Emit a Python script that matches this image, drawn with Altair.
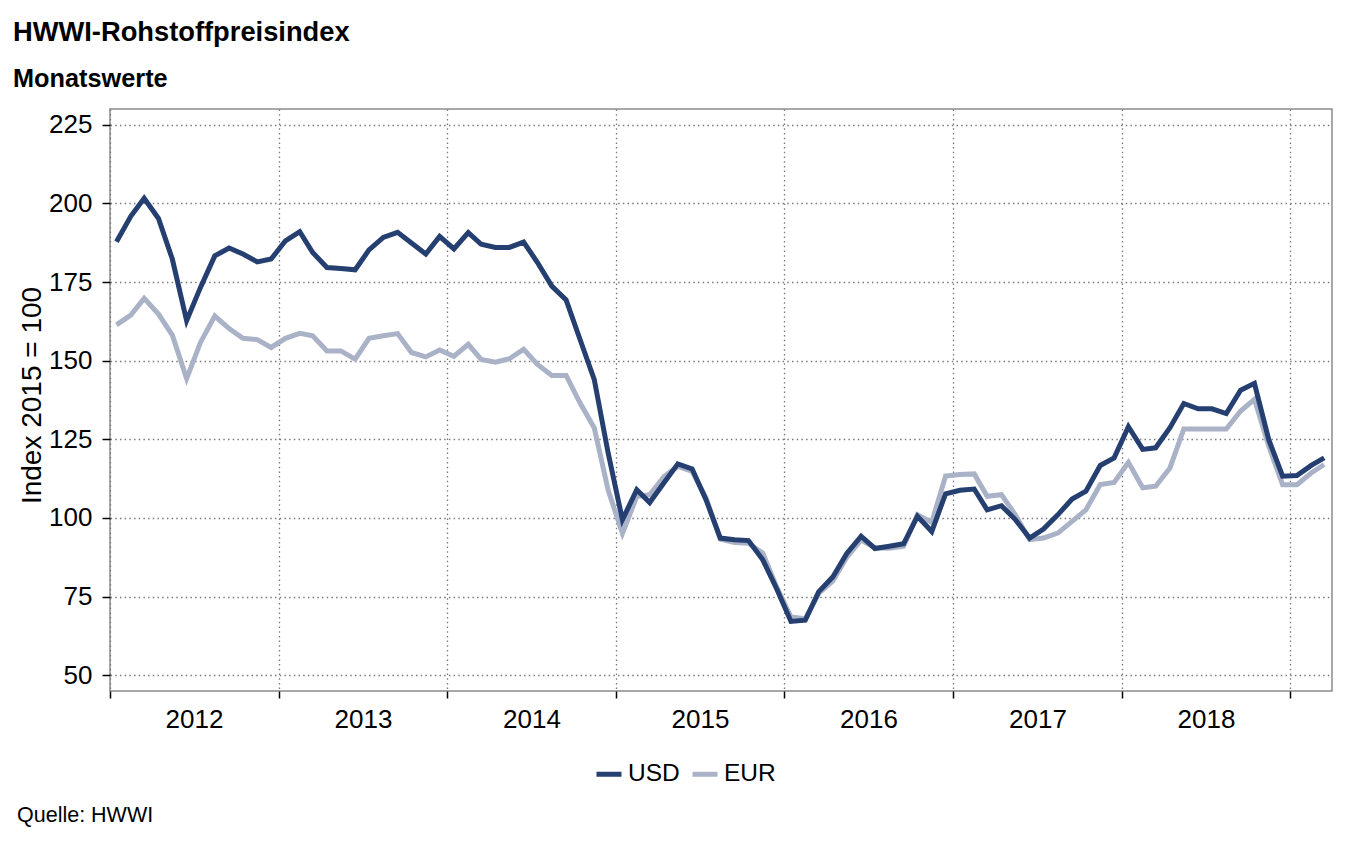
import altair as alt
import pandas as pd

F = "Liberation Sans, Arial, sans-serif"

usd = [187.8, 195.9, 201.6, 195.2, 182.3, 162.7, 173.3, 183.3, 185.8, 183.9, 181.4, 182.3,
       188.1, 191.0, 184.4, 179.6, 179.3, 178.9, 185.2, 189.2, 190.8, 187.4, 183.9, 189.5,
       185.5, 190.7, 187.0, 186.0, 186.0, 187.7, 181.2, 173.7, 169.3, 156.8, 144.0, 120.7,
       99.4, 109.0, 104.9, 111.2, 117.2, 115.6, 105.8, 93.6, 93.1, 92.8, 86.7, 77.5,
       67.1, 67.5, 76.5, 81.3, 88.7, 94.2, 90.3, 91.0, 91.8, 100.5, 95.7, 107.7,
       108.8, 109.2, 102.6, 103.9, 99.5, 93.6, 96.5, 101.0, 106.0, 108.5, 116.7, 119.1,
       129.0, 121.8, 122.3, 128.7, 136.4, 134.7, 134.7, 133.2, 140.6, 142.8, 124.9, 113.3,
       113.5, 116.7, 119.1]

eur = [161.4, 164.5, 169.8, 164.8, 158.1, 144.3, 155.8, 164.2, 160.2, 157.1, 156.7, 154.2,
       157.1, 158.7, 157.9, 153.1, 153.1, 150.5, 157.1, 157.9, 158.6, 152.6, 151.2, 153.4,
       151.4, 155.2, 150.4, 149.5, 150.6, 153.6, 148.8, 145.3, 145.3, 136.6, 128.6, 108.9,
       95.1, 106.8, 107.4, 113.2, 116.4, 114.8, 106.4, 93.3, 92.2, 92.0, 88.8, 78.1,
       68.5, 68.0, 76.0, 80.0, 87.5, 93.0, 90.5, 90.4, 91.0, 101.0, 98.6, 113.3,
       113.8, 114.0, 106.9, 107.4, 101.0, 93.1, 93.6, 95.2, 98.9, 102.6, 110.6, 111.3,
       117.7, 109.6, 110.1, 115.9, 128.3, 128.3, 128.3, 128.3, 134.0, 137.7, 122.8, 110.6,
       110.6, 114.3, 117.0]

n = len(usd)
dates = [f"{2012 + i // 12}-{i % 12 + 1:02d}-15" for i in range(n)]
series_names = ["USD", "EUR"]
series_colors = ["#243f70", "#a9b2c6"]
y_ticks = [50, 75, 100, 125, 150, 175, 200, 225]
years = list(range(2012, 2020))

df = pd.DataFrame({
    "date": dates + dates,
    "value": usd + eur,
    "series": ["USD"] * n + ["EUR"] * n,
})

color = alt.Color(
    "series:N",
    scale=alt.Scale(domain=series_names, range=series_colors),
    legend=alt.Legend(
        title=None, orient="none", legendX=484, legendY=650, direction="horizontal",
        symbolType="stroke", symbolStrokeWidth=5, symbolSize=625,
        labelFontSize=24.5, labelFont=F, labelColor="black", columnPadding=2,
        labelPadding=5, padding=0,
    ),
)

x = alt.X(
    "date:T",
    scale=alt.Scale(type="utc", domain=[alt.DateTime(year=2012, month=1, date=1, utc=True),
                                        alt.DateTime(year=2019, month=4, date=1, utc=True)]),
    axis=alt.Axis(
        title=None,
        values=[alt.DateTime(year=yy, month=1, date=1, utc=True) for yy in years],
        labelExpr="utcFormat(datum.value, '%Y') == '2019' ? '' : utcFormat(datum.value, '%Y')",
        labelOffset=84, labelFlush=False, labelOverlap=False,
        labelFontSize=26, labelFont=F, labelColor="black",
        labelBaseline="alphabetic", labelPadding=29,
        tickSize=7, tickColor="black", tickWidth=1.5,
        domain=False,
        grid=True, gridColor="#7a7a7a", gridDash=[1.5, 3.2], gridWidth=1.3,
    ),
)

y = alt.Y(
    "value:Q",
    scale=alt.Scale(domain=[45, 230], nice=False, zero=False),
    axis=alt.Axis(
        values=y_ticks, title="Index 2015 = 100", titleFontSize=28, titleFont=F,
        titleFontWeight="normal", titleColor="black", titleX=-70, titleY=286,
        titleBaseline="alphabetic",
        labelFontSize=26, labelFont=F, labelColor="black", labelPadding=10,
        tickSize=8, tickColor="black", tickWidth=1.5, domain=False,
        grid=True, gridColor="#7a7a7a", gridDash=[1.5, 3.2], gridWidth=1.3,
    ),
)

base = alt.Chart(df)
eur_line = base.transform_filter("datum.series == 'EUR'").mark_line(strokeWidth=5).encode(x=x, y=y, color=color)
usd_line = base.transform_filter("datum.series == 'USD'").mark_line(strokeWidth=5).encode(x=x, y=y, color=color)


def label(txt, px, py, size, weight="normal"):
    return alt.Chart(pd.DataFrame({"t": [txt]})).mark_text(
        align="left", baseline="alphabetic", fontSize=size, fontWeight=weight, font=F, color="black"
    ).encode(x=alt.value(px), y=alt.value(py), text="t:N")


title = label("HWWI-Rohstoffpreisindex", -97, -68, 27.3, "bold")
subtitle = label("Monatswerte", -97, -22, 25.3, "bold")
source = label("Quelle: HWWI", -93, 713, 21.5)

chart = alt.layer(eur_line, usd_line, title, subtitle, source).properties(
    width=1222, height=582,
    autosize=alt.AutoSizeParams(type="none"),
    padding={"left": 102, "top": 101, "right": 28, "bottom": 145},
).configure_view(stroke="#8c8c8c", strokeWidth=1.5)

chart.save("out.html", embed_options={"renderer": "svg", "actions": False})
